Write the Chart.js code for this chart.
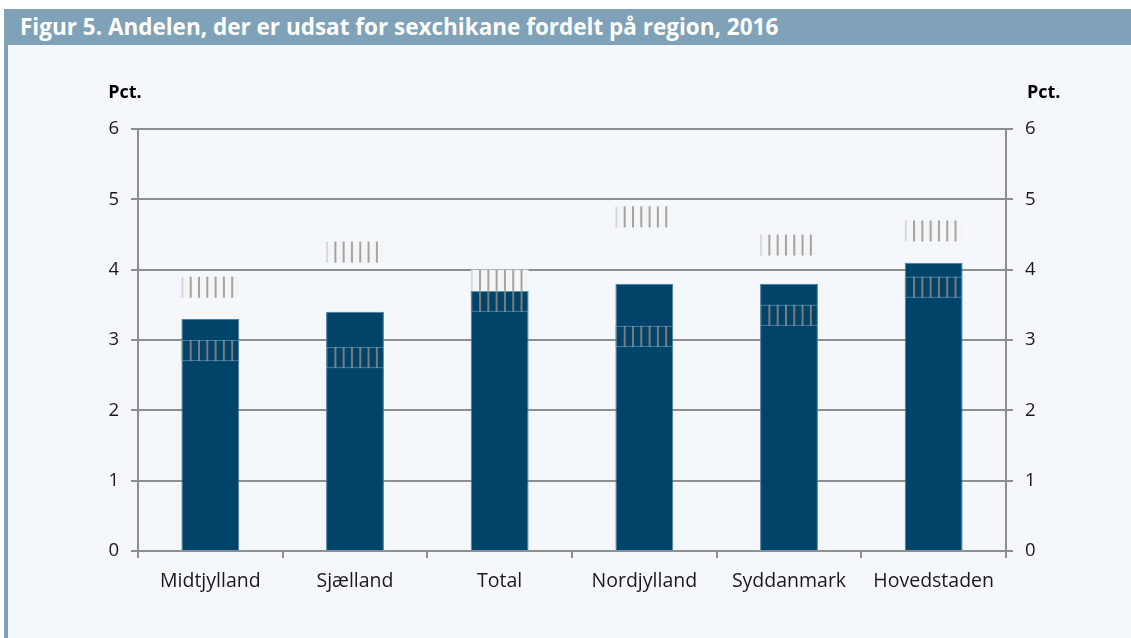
<!DOCTYPE html>
<html>
<head>
<meta charset="utf-8">
<script src="https://cdn.jsdelivr.net/npm/chart.js@4"></script>
<style>
  html, body { margin: 0; padding: 0; background: #ffffff; }
  body { width: 1131px; height: 638px; position: relative; overflow: hidden; font-family: "Open Sans", sans-serif; }
  #titlebar {
    position: absolute; left: 4px; top: 9px; right: 0; height: 36px;
    background: #7fa2b8; color: #ffffff; font-weight: 700; font-size: 22.5px;
    line-height: 36px; padding-left: 16px; white-space: nowrap;
  }
  #stripe { position: absolute; left: 4px; top: 45px; width: 4px; bottom: 0; background: #7fa2b8; }
  #panel { position: absolute; left: 8px; top: 45px; right: 0; bottom: 0; background: #f4f8fc; }
  #chart { display: block; }
</style>
</head>
<body>
<div id="titlebar">Figur 5. Andelen, der er udsat for sexchikane fordelt på region, 2016</div>
<div id="stripe"></div>
<div id="panel"><canvas id="chart" width="1123" height="593"></canvas></div>
<script>
var categories = ["Midtjylland", "Sjælland", "Total", "Nordjylland", "Syddanmark", "Hovedstaden"];
var shares = [3.3, 3.4, 3.7, 3.8, 3.8, 4.1];
// confidence interval markers, drawn as small hatched blocks
var lowerMarks = [[2.7, 3.0], [2.6, 2.9], [3.4, 3.7], [2.9, 3.2], [3.2, 3.5], [3.6, 3.9]];
var upperMarks = [[3.6, 3.9], [4.1, 4.4], [3.7, 4.0], [4.6, 4.9], [4.2, 4.5], [4.4, 4.7]];
var yTicks = [0, 1, 2, 3, 4, 5, 6];

var gridGrey = "#8e8e8e";

Chart.defaults.font.family = '"Open Sans", sans-serif';
Chart.defaults.font.size = 18;
Chart.defaults.color = "#1a1a1a";

// draws the vertical hatching of the marker blocks
var hatchPlugin = {
    id: "hatch",
    afterDatasetsDraw: function(chart) {
        var ctx = chart.ctx;
        var bars = chart.getDatasetMeta(0).data;
        [1, 2].forEach(function(di) {
            var meta = chart.getDatasetMeta(di);
            meta.data.forEach(function(el, i) {
                var p = el.getProps(["x", "y", "base", "width"], true);
                var left = p.x - p.width / 2;
                var right = p.x + p.width / 2;
                var top = Math.min(p.y, p.base);
                var bottom = Math.max(p.y, p.base);
                var barTop = bars[i].y;
                ctx.save();
                // part above the bar
                var aTop = top, aBot = Math.min(bottom, barTop);
                if (aBot > aTop) {
                    ctx.fillStyle = "#f3f5f7";
                    ctx.fillRect(left, aTop, p.width, aBot - aTop);
                    drawLines(ctx, left, right, aTop, aBot, "#a6a2a2");
                }
                // part on the bar
                var bTop = Math.max(top, barTop), bBot = bottom;
                if (bBot > bTop) {
                    drawLines(ctx, left, right, bTop, bBot, "#7b7b7b");
                    ctx.strokeStyle = "rgba(120,170,205,0.55)";
                    ctx.lineWidth = 1;
                    ctx.beginPath();
                    ctx.moveTo(left, bTop + 0.5); ctx.lineTo(right, bTop + 0.5);
                    ctx.moveTo(left, bBot - 0.5); ctx.lineTo(right, bBot - 0.5);
                    ctx.stroke();
                }
                ctx.restore();
            });
        });
    }
};

function drawLines(ctx, left, right, top, bottom, color) {
    ctx.strokeStyle = color;
    ctx.lineWidth = 2;
    for (var k = 0; k < 7; k++) {
        var lx = left + 1 + k * 8.3;
        if (lx > right) break;
        ctx.globalAlpha = k === 0 ? 0.35 : 1;
        ctx.beginPath();
        ctx.moveTo(lx, top);
        ctx.lineTo(lx, bottom);
        ctx.stroke();
    }
    ctx.globalAlpha = 1;
}

var pctPlugin = {
    id: "pct",
    afterDraw: function(chart) {
        var ctx = chart.ctx;
        var a = chart.chartArea;
        ctx.save();
        ctx.font = '700 18px "Open Sans", sans-serif';
        ctx.fillStyle = "#000000";
        ctx.textBaseline = "middle";
        ctx.textAlign = "center";
        ctx.fillText("Pct.", a.left - 13, a.top - 36);
        ctx.textAlign = "left";
        ctx.fillText("Pct.", a.right + 21, a.top - 36);
        ctx.restore();
    }
};

var ctx = document.getElementById("chart").getContext("2d");
var chart = new Chart(ctx, {
    type: "bar",
    data: {
        labels: categories,
        datasets: [{
            data: shares,
            backgroundColor: "#00446a",
            borderColor: "#4a7ea3",
            borderWidth: 1,
            barPercentage: 0.4,
            categoryPercentage: 1
        }, {
            data: lowerMarks,
            backgroundColor: "rgba(0,0,0,0)",
            borderWidth: 0,
            barPercentage: 0.4,
            categoryPercentage: 1
        }, {
            data: upperMarks,
            backgroundColor: "rgba(0,0,0,0)",
            borderWidth: 0,
            barPercentage: 0.4,
            categoryPercentage: 1
        }]
    },
    options: {
        responsive: false,
        animation: false,
        layout: { padding: { top: 84, left: 0, right: 0, bottom: 0 } },
        plugins: { legend: { display: false }, tooltip: { enabled: false } },
        scales: {
            x: {
                stacked: true,
                offset: true,
                grid: { display: true, drawOnChartArea: false, offset: true, color: gridGrey, lineWidth: 2, tickLength: 7 },
                border: { display: true, color: gridGrey, width: 2 },
                ticks: { padding: 12, color: "#1a1a1a", font: { size: 19.5 } },
                afterFit: function(s) { s.height = 87; }
            },
            y: {
                position: "left",
                min: 0, max: 6,
                afterBuildTicks: function(s) { s.ticks = yTicks.map(function(v) { return { value: v }; }); },
                grid: { color: gridGrey, lineWidth: 2, tickLength: 7 },
                border: { display: true, color: gridGrey, width: 2 },
                ticks: { padding: 12, font: { size: 18.5 } },
                afterFit: function(s) { s.width = 130; }
            },
            y2: {
                position: "right",
                min: 0, max: 6,
                afterBuildTicks: function(s) { s.ticks = yTicks.map(function(v) { return { value: v }; }); },
                grid: { drawOnChartArea: false, color: gridGrey, lineWidth: 2, tickLength: 7 },
                border: { display: true, color: gridGrey, width: 2 },
                ticks: { padding: 12, font: { size: 18.5 } },
                afterFit: function(s) { s.width = 125; }
            }
        }
    },
    plugins: [hatchPlugin, pctPlugin]
});
</script>
</body>
</html>
